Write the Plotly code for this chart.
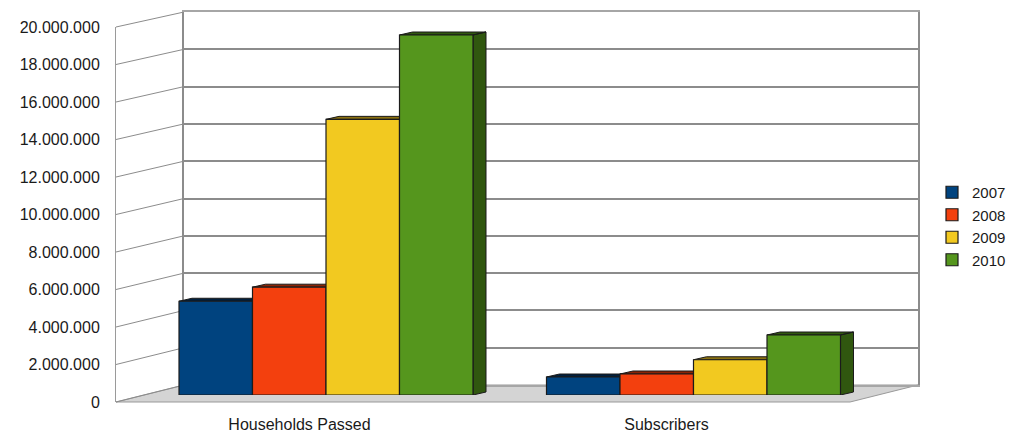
import plotly.graph_objects as go

# ---------------- data ----------------
categories = ["Households Passed", "Subscribers"]
years = ["2007", "2008", "2009", "2010"]
values_2007 = [5_000_000, 960_000]
values_2008 = [5_750_000, 1_120_000]
values_2009 = [14_700_000, 1_880_000]
values_2010 = [19_200_000, 3_200_000]
series = [values_2007, values_2008, values_2009, values_2010]
y_ticks = [0, 2_000_000, 4_000_000, 6_000_000, 8_000_000, 10_000_000,
           12_000_000, 14_000_000, 16_000_000, 18_000_000, 20_000_000]
y_max = 20_000_000

# ---------------- styles / geometry ----------------
W, H = 1014, 434
front_colors = ["#00437f", "#f3400e", "#f2c920", "#55961d"]
dark_colors = ["#001f3d", "#8a2406", "#8a7010", "#30570f"]
outline = "#1b1b1b"
grid_col = "#8c8c8c"
font_family = "Liberation Sans, Arial, sans-serif"
text_col = "#1a1a1a"

# pixel geometry of the pseudo-3D room
FRONT_L, FRONT_R, FRONT_BOTTOM, FRONT_TOP = 116, 850, 402, 27
BACK_L, BACK_R, BACK_BOTTOM, BACK_TOP = 184, 918, 385, 12
BAR_L, BAR_R, BAR_BOTTOM, BAR_TOP = 142.25, 877.25, 395, 20
EXTR_DX_PX, EXTR_DY_PX = 13, 3


def px_x(px):
    return px / W


def px_y(py):
    return 1 - py / H


def front_py(v):
    return FRONT_BOTTOM - v / y_max * (FRONT_BOTTOM - FRONT_TOP)


def back_py(v):
    return BACK_BOTTOM - v / y_max * (BACK_BOTTOM - BACK_TOP)


fig = go.Figure()

# subplot xy : front frame (value labels + category labels)
fig.add_trace(go.Scatter(x=[None], y=[None], xaxis="x", yaxis="y",
                         showlegend=False, hoverinfo="skip"))
# subplot x2y2 : back wall with gridlines
fig.add_trace(go.Scatter(x=[None], y=[None], xaxis="x2", yaxis="y2",
                         showlegend=False, hoverinfo="skip"))

# bar geometry in data units of x3/y3
n = len(series)
group_w = 0.8
bar_w = group_w / n
px_per_unit_x = (BAR_R - BAR_L) / 2.0
px_per_unit_y = (BAR_BOTTOM - BAR_TOP) / y_max
dx = EXTR_DX_PX / px_per_unit_x
dy = EXTR_DY_PX / px_per_unit_y

# extrusions (top + side faces) in subplot x3y3, beneath the front faces
for i, vals in enumerate(series):
    xs, ys = [], []
    for j, v in enumerate(vals):
        xl = j - group_w / 2 + i * bar_w
        xr = xl + bar_w
        # top face
        xs += [xl, xr, xr + dx, xl + dx, xl, None]
        ys += [v, v, v + dy, v + dy, v, None]
        # side face
        xs += [xr, xr + dx, xr + dx, xr, xr, None]
        ys += [0, dy, v + dy, v, 0, None]
    fig.add_trace(go.Scatter(
        x=xs, y=ys, xaxis="x3", yaxis="y3", mode="lines", fill="toself",
        fillcolor=dark_colors[i], line=dict(color=outline, width=1),
        showlegend=False, hoverinfo="skip"))

# front faces: real bars in overlay subplot x4y4
for i, vals in enumerate(series):
    fig.add_trace(go.Bar(
        x=[0, 1], y=vals, name=years[i], xaxis="x4", yaxis="y4",
        marker=dict(color=front_colors[i], line=dict(color=outline, width=1.2)),
        hovertext=categories, hoverinfo="text+y+name"))

# decorations: floor and left wall
shapes = []
floor_path = (f"M{px_x(FRONT_L)},{px_y(FRONT_BOTTOM)} "
              f"L{px_x(FRONT_R)},{px_y(FRONT_BOTTOM)} "
              f"L{px_x(BACK_R)},{px_y(BACK_BOTTOM)} "
              f"L{px_x(BACK_L)},{px_y(BACK_BOTTOM)} Z")
shapes.append(dict(type="path", path=floor_path, xref="paper", yref="paper",
                   fillcolor="#d4d4d4", line=dict(color="#999999", width=1),
                   layer="below"))
for v in y_ticks:
    shapes.append(dict(type="line", xref="paper", yref="paper",
                       x0=px_x(FRONT_L), y0=px_y(front_py(v)),
                       x1=px_x(BACK_L), y1=px_y(back_py(v)),
                       line=dict(color=grid_col, width=1), layer="below"))

tick_font = dict(family=font_family, size=16, color=text_col)
fig.update_layout(
    template="none",
    width=W, height=H,
    margin=dict(l=0, r=0, t=0, b=0, pad=0, autoexpand=False),
    paper_bgcolor="white", plot_bgcolor="rgba(0,0,0,0)",
    separators=",.",
    barmode="group", bargap=0.2, bargroupgap=0,
    shapes=shapes,
    font=dict(family=font_family, color=text_col),
    # front frame
    xaxis=dict(domain=[px_x(FRONT_L), px_x(BACK_R)],
               range=[0, BACK_R - FRONT_L],
               tickvals=[(FRONT_R - FRONT_L) * 0.25, (FRONT_R - FRONT_L) * 0.75],
               ticktext=categories, showgrid=False, zeroline=False,
               showline=False, ticks="", tickfont=tick_font,
               ticklabelstandoff=11, automargin=False, fixedrange=True),
    yaxis=dict(domain=[px_y(FRONT_BOTTOM), px_y(FRONT_TOP)], range=[0, y_max],
               tickvals=y_ticks, tickformat=",d", showgrid=False,
               zeroline=False, showline=True, linecolor="#9a9a9a",
               linewidth=1, ticks="", tickfont=tick_font,
               ticklabelstandoff=12, automargin=False, fixedrange=True),
    # back wall
    xaxis2=dict(domain=[px_x(BACK_L), px_x(BACK_R)], range=[0, 1],
                anchor="y2", showticklabels=False, ticks="", showgrid=False,
                zeroline=False, showline=True, mirror=True,
                linecolor="#a6a6a6", linewidth=2,
                automargin=False, fixedrange=True),
    yaxis2=dict(domain=[px_y(BACK_BOTTOM), px_y(BACK_TOP)], range=[0, y_max],
                anchor="x2", tickvals=y_ticks, showgrid=True,
                gridcolor=grid_col, gridwidth=2, zeroline=False,
                showline=True, mirror=True, linecolor=grid_col, linewidth=2,
                showticklabels=False, ticks="", automargin=False,
                fixedrange=True),
    # bars (extrusions + front faces)
    xaxis3=dict(domain=[px_x(BAR_L), px_x(BAR_R)], range=[-0.5, 1.5],
                anchor="y3", visible=False, automargin=False, fixedrange=True),
    yaxis3=dict(domain=[px_y(BAR_BOTTOM), px_y(BAR_TOP)], range=[0, y_max],
                anchor="x3", visible=False, automargin=False, fixedrange=True),
    xaxis4=dict(overlaying="x3", range=[-0.5, 1.5], anchor="y4",
                visible=False, automargin=False, fixedrange=True),
    yaxis4=dict(overlaying="y3", range=[0, y_max], anchor="x4",
                visible=False, automargin=False, fixedrange=True),
    legend=dict(x=px_x(932), xanchor="left", y=px_y(176), yanchor="top",
                font=dict(family=font_family, size=15, color=text_col),
                bgcolor="rgba(0,0,0,0)", borderwidth=0),
)

fig.write_html("out.html")
